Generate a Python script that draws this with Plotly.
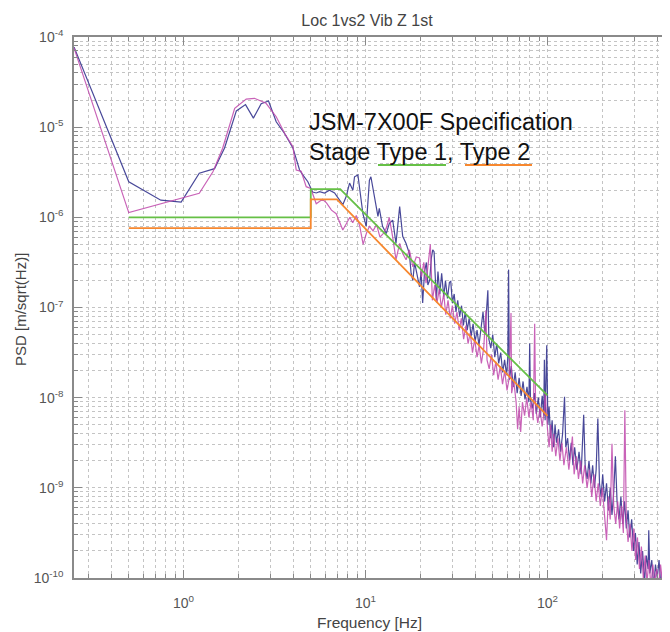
import plotly.graph_objects as go

# ---------------- data ----------------
# Measured PSD, location 1 (navy) - frequency [Hz] and log10(PSD [m/sqrt(Hz)])
blue_freq = [0.25, 0.5, 0.75, 0.97, 1.22, 1.48, 1.68, 1.95, 2.19, 2.42, 2.67, 2.93, 3.23, 3.59, 3.99,
             4.34, 4.52, 4.82, 5.12, 5.36, 5.59, 5.95, 6.34, 6.76, 7.2, 7.5, 7.83, 8.17, 8.52, 8.7,
             9.08, 9.27, 9.67, 10.09, 10.5, 10.7, 11.2, 11.7, 11.9, 12.4, 13.0, 13.5, 14.1, 14.7,
             15.4, 16.0, 16.7, 17.4, 17.8, 18.2, 18.6, 19.0, 19.8, 20.2, 20.6, 21.1, 21.6, 22.0,
             22.5, 23.0, 23.4, 23.8,
             24.5, 25.0, 25.6, 26.2, 26.9, 27.5, 28.2, 28.9, 29.4, 30.0, 30.7, 31.4, 32.1, 32.9,
             33.7, 34.5, 35.3, 36.2, 37.1, 38.0, 39.0, 40.0, 41.0, 42.0, 43.1, 44.2, 45.3, 46.4,
             47.0, 47.6, 48.8, 50.0, 51.3, 52.6, 53.9, 55.3, 56.7, 58.1, 59.6, 60.5, 61.1, 61.7,
             63.2, 64.8, 66.4, 68.1, 69.8, 71.6, 73.4, 75.2, 77.1, 79.0, 79.8, 80.6, 82.6, 84.7,
             86.8, 89.0, 91.2, 93.5, 95.3, 96.1, 97.0, 99.0, 100.0,
             100.5, 102, 104, 106, 108, 110, 112, 115, 118, 121, 124, 126, 129, 132, 135, 138,
             141, 145, 149, 153, 158, 161, 165, 169, 173, 177, 181, 185, 189, 193, 197, 201, 206,
             211, 216, 221, 226, 231, 236, 241, 247, 253, 259, 265, 271, 277, 283, 290, 297, 304,
             311, 318, 325, 333, 341, 349, 357, 360, 365, 374, 383, 392, 401, 410, 420, 430, 440,
             450, 460, 470]
blue_log10 = [-4.11, -5.605, -5.81, -5.83, -5.51, -5.46, -5.23, -4.82, -4.75, -4.90, -4.74, -4.71,
              -4.94, -5.07, -5.23, -5.475, -5.53, -5.605, -5.72, -5.73, -5.715, -5.73, -5.70, -5.73,
              -5.81, -5.86, -5.77, -5.62, -5.70, -5.55, -5.53, -5.66, -5.96, -6.10, -5.59, -5.55,
              -5.77, -5.99, -5.90, -6.10, -6.18, -6.07, -6.03, -6.29, -5.88, -6.21, -6.29, -6.40,
              -6.62, -6.70, -6.50, -6.58, -6.77, -6.60, -6.95, -6.60, -6.50, -6.75, -6.70, -6.45,
              -6.36, -6.38,
              -6.92, -6.60, -6.85, -6.62, -6.88, -6.70, -6.90, -6.72, -6.71, -6.95, -6.85, -7.05,
              -6.92, -7.10, -6.98, -7.20, -7.05, -7.25, -7.12, -7.32, -7.18, -7.38, -7.25, -7.42,
              -7.20, -7.05, -7.30, -6.95, -6.81, -7.35, -7.45, -7.30, -7.55, -7.40, -7.62, -7.50,
              -7.72, -7.58, -7.75, -7.55, -6.58, -7.80, -7.65, -7.88, -7.72, -7.95, -7.78, -7.98,
              -7.82, -8.02, -7.88, -8.05, -7.40, -8.02, -8.12, -7.95, -8.18, -8.00, -8.22, -7.98,
              -8.20, -7.58, -8.25, -7.42, -8.30,
              -8.30, -8.10, -8.45, -8.25, -8.55, -8.30, -8.50, -8.35, -8.60, -8.40, -7.99, -8.55,
              -8.45, -8.70, -8.50, -8.75, -8.55, -8.80, -8.60, -8.85, -8.19, -8.75, -8.90, -8.70,
              -8.95, -8.75, -9.00, -8.80, -8.23, -8.95, -9.10, -8.85, -9.15, -8.95, -9.25, -9.00,
              -9.30, -9.05, -8.65, -9.15, -9.35, -9.10, -9.40, -9.15, -9.45, -9.25, -9.55, -9.35,
              -9.70, -9.50, -9.85, -9.60, -9.95, -9.70, -10.05, -9.75, -9.90, -9.47, -9.95, -9.80,
              -10.1, -9.85, -10.0, -9.80, -10.1, -9.90, -10.05, -9.85, -10.1, -9.95]

# Measured PSD, location 2 (magenta)
magenta_freq = [0.25, 0.5, 1.22, 1.45, 1.64, 1.91, 2.21, 2.45, 2.84, 3.23, 3.59, 3.99, 4.16, 4.43,
                4.72, 5.0, 5.36, 5.8, 6.1, 6.5, 6.9, 7.2, 7.5, 7.8, 8.2, 8.5, 8.9, 9.3, 9.7, 10.1,
                10.5, 11.0, 11.5, 12.0, 12.5, 13.0, 13.5, 14.1, 14.7, 15.4, 16.0, 16.7, 17.4, 18.2,
                19.0, 19.8, 20.3, 20.9, 21.5, 22.0, 22.7, 23.3, 24.0, 24.7, 25.4, 26.1, 26.9, 27.6,
                28.4, 29.2, 30.0, 30.9, 31.8, 32.7, 33.6, 34.6, 35.6, 36.6, 37.6, 38.7, 39.8, 41.0,
                42.1, 43.3, 44.6, 45.9, 46.5, 47.8, 49.2, 50.6, 52.0, 53.5, 55.0, 56.6, 58.2, 59.9,
                61.6, 63.0, 63.5, 65.3, 67.2, 68.5, 69.8, 71.2, 72.8, 74.8, 76.9, 79.0, 81.2, 83.5,
                85.0, 86.0, 88.4, 90.9, 93.4, 96.0, 97.0, 100.0,
                102, 104, 106, 108, 111, 114, 117, 120, 123, 127, 131, 137, 140, 144, 148, 152,
                156, 160, 165, 170, 175, 180, 185, 190, 195, 200, 205, 211, 216, 221, 226, 231,
                237, 243, 249, 255, 261, 266, 271, 277, 284, 291, 298, 305, 312, 320, 328, 336,
                344, 352, 361, 370, 379, 388, 398, 408, 418, 428, 438, 448, 460, 470]
magenta_log10 = [-4.12, -5.948, -5.733, -5.494, -5.234, -4.791, -4.688, -4.68, -4.735, -4.884,
                 -5.068, -5.216, -5.475, -5.49, -5.66, -5.68, -5.85, -5.80, -5.84, -5.92, -5.96,
                 -6.05, -6.14, -6.08, -6.00, -6.06, -5.98, -6.10, -6.30, -6.18, -6.10, -6.15,
                 -6.08, -6.22, -6.18, -6.12, -6.00, -6.22, -6.47, -6.29, -6.40, -6.47, -6.36,
                 -6.55, -6.44, -6.45, -6.66, -6.50, -6.73, -6.55, -6.30, -6.92, -6.75, -6.95,
                 -6.80, -7.00, -6.85, -7.08, -6.92, -7.12, -6.98, -7.18, -7.05, -7.25, -7.12,
                 -7.35, -7.20, -7.40, -7.28, -7.50, -7.35, -7.55, -7.42, -7.62, -7.45, -7.03,
                 -7.58, -7.68, -7.52, -7.75, -7.60, -7.80, -7.65, -7.85, -7.70, -7.92, -7.78,
                 -7.06, -7.95, -7.82, -8.05, -8.35, -8.10, -8.38, -8.05, -8.20, -8.00, -8.22,
                 -8.05, -8.25, -7.18, -8.10, -8.28, -8.12, -8.32, -8.15, -7.95, -8.35,
                 -8.55, -8.30, -8.60, -8.40, -8.65, -8.45, -8.70, -8.50, -8.75, -8.55, -8.80,
                 -8.43, -8.85, -8.65, -8.90, -8.70, -8.95, -8.75, -9.00, -8.80, -9.10, -8.85,
                 -9.15, -8.95, -9.20, -9.00, -9.30, -9.58, -9.10, -9.35, -8.51, -9.20, -9.40,
                 -9.15, -9.45, -9.20, -9.50, -8.14, -9.35, -9.60, -9.40, -9.70, -9.45, -9.80,
                 -9.55, -9.90, -9.65, -10.0, -9.75, -10.05, -9.80, -10.1, -9.85, -10.05, -9.90,
                 -10.1, -9.85, -10.05, -9.90, -10.1, -9.95, -10.05]

# Specification limits (JSM-7X00F): stage type 1 (green), type 2 (orange)
spec1_freq = [0.5, 5.0, 5.0, 7.26, 100.0]
spec1_psd = [1.0e-6, 1.0e-6, 2.05e-6, 2.05e-6, 1.06e-8]
spec2_freq = [0.5, 5.0, 5.0, 6.96, 100.0]
spec2_psd = [7.6e-7, 7.6e-7, 1.58e-6, 1.58e-6, 6.3e-9]

x_tick_vals = [1, 10, 100]
x_tick_text = ["10<sup>0</sup>", "10<sup>1</sup>", "10<sup>2</sup>"]
y_tick_vals = [1e-10, 1e-9, 1e-8, 1e-7, 1e-6, 1e-5, 1e-4]
y_tick_text = ["10<sup>-10</sup>", "10<sup>-9</sup>", "10<sup>-8</sup>", "10<sup>-7</sup>",
               "10<sup>-6</sup>", "10<sup>-5</sup>", "10<sup>-4</sup>"]
x_minor_vals = [m * 10.0 ** e for e in (-1, 0, 1, 2) for m in range(2, 10)]
y_minor_vals = [m * 10.0 ** e for e in range(-10, -4) for m in range(2, 10)]

# ---------------- figure ----------------
# The page body has an 8 px margin; the figure is sized/offset so the plot area
# lands at page pixels x 74..670, y 37..578.
FONT = "Liberation Sans, Arial, sans-serif"
W, H = 662, 624
L, T, B = 66, 29, 54
PW, PH = W - L, H - T - B
fig = go.Figure()

fig.add_trace(go.Scatter(x=blue_freq, y=[10 ** v for v in blue_log10], mode="lines",
                         line=dict(color="#35358f", width=1.2), opacity=0.9, showlegend=False))
fig.add_trace(go.Scatter(x=magenta_freq, y=[10 ** v for v in magenta_log10], mode="lines",
                         line=dict(color="#c048ac", width=1.2), opacity=0.85, showlegend=False))
fig.add_trace(go.Scatter(x=spec1_freq, y=spec1_psd, mode="lines",
                         line=dict(color="#66c046", width=1.8), showlegend=False))
fig.add_trace(go.Scatter(x=spec2_freq, y=spec2_psd, mode="lines",
                         line=dict(color="#f7882f", width=1.8), showlegend=False))

grid = dict(showgrid=True, gridcolor="#c4c4c4", griddash="dot", gridwidth=1)

fig.update_xaxes(type="log", range=[-0.602, 2.673], tickmode="array", tickvals=x_tick_vals,
                 ticktext=x_tick_text,
                 ticks="inside", ticklen=8, tickcolor="#888888", tickwidth=1.2,
                 showline=True, linecolor="#8a8a8a", linewidth=1.6, mirror="ticks",
                 ticklabelstandoff=11, zeroline=False,
                 tickfont=dict(family=FONT, size=14, color="#555555"),
                 minor=dict(tickmode="array", tickvals=x_minor_vals, ticks="inside", ticklen=4,
                            tickcolor="#888888", **grid), **grid)
fig.update_yaxes(type="log", range=[-10, -4], tickmode="array", tickvals=y_tick_vals,
                 ticktext=y_tick_text,
                 ticks="inside", ticklen=8, tickcolor="#888888", tickwidth=1.2,
                 showline=True, linecolor="#8a8a8a", linewidth=1.6, mirror="ticks",
                 ticklabelstandoff=6, zeroline=False,
                 tickfont=dict(family=FONT, size=14, color="#555555"),
                 minor=dict(tickmode="array", tickvals=y_minor_vals, ticks="inside", ticklen=4,
                            tickcolor="#888888", **grid), **grid)

fig.update_layout(
    width=W, height=H,
    margin=dict(l=L, r=0, t=T, b=B, autoexpand=False),
    paper_bgcolor="white", plot_bgcolor="white",
    title=dict(text="Loc 1vs2 Vib Z 1st", x=(367 - 8) / W, xanchor="center",
               y=1 - (20 - 8) / H, yanchor="middle",
               font=dict(family=FONT, size=16, color="#444444")),
    font=dict(family=FONT),
)


def px_x(page_x):
    return (page_x - 8 - L) / PW


def px_y(page_y):
    return (H - B - (page_y - 8)) / PH


annos = [
    dict(text="JSM-7X00F Specification", x=px_x(307), y=px_y(122),
         xanchor="left", yanchor="middle", font=dict(size=23.5, color="#111111")),
    dict(text="Stage Type 1, Type 2", x=px_x(307), y=px_y(152),
         xanchor="left", yanchor="middle", font=dict(size=23.5, color="#111111")),
    dict(text="PSD [m/sqrt(Hz)]", x=px_x(20), y=px_y(310), textangle=-90,
         xanchor="center", yanchor="middle", font=dict(size=15, color="#444444")),
    dict(text="Frequency [Hz]", x=px_x(369), y=px_y(622),
         xanchor="center", yanchor="middle", font=dict(size=15.5, color="#444444")),
]
for a in annos:
    a["font"]["family"] = FONT
    fig.add_annotation(xref="paper", yref="paper", showarrow=False, **a)

# legend sample lines under the annotation text
fig.add_shape(type="line", xref="paper", yref="paper", x0=px_x(378), x1=px_x(446),
              y0=px_y(165), y1=px_y(165), line=dict(color="#66c046", width=1.8))
fig.add_shape(type="line", xref="paper", yref="paper", x0=px_x(465), x1=px_x(532),
              y0=px_y(165), y1=px_y(165), line=dict(color="#f7882f", width=1.8))

fig.write_html("out.html")
